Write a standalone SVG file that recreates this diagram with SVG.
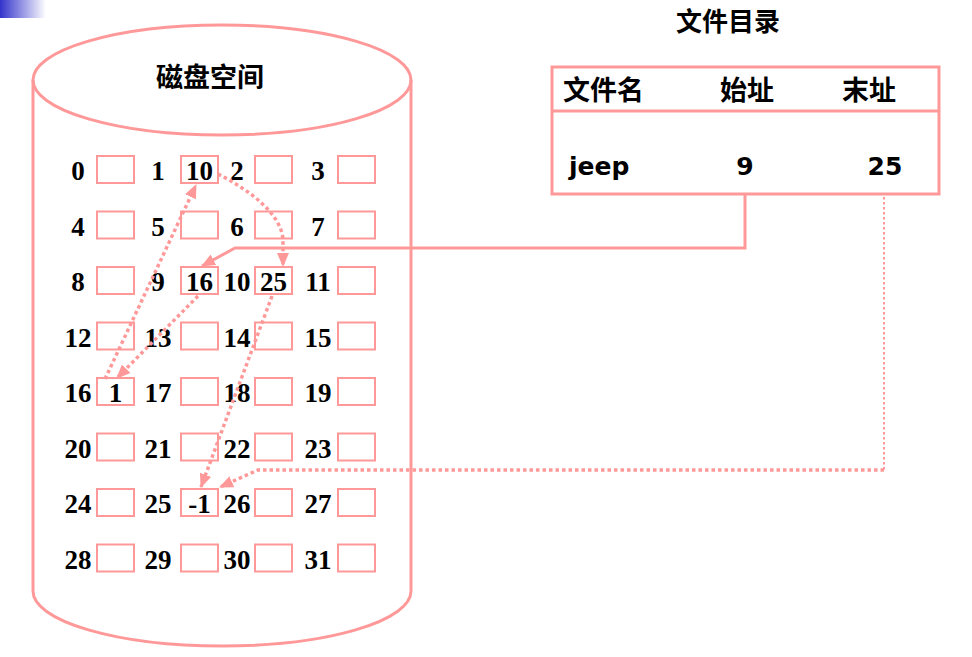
<svg xmlns="http://www.w3.org/2000/svg" width="972" height="657" viewBox="0 0 972 657">
<defs>
<linearGradient id="g" x1="0" y1="0" x2="1" y2="0">
<stop offset="0" stop-color="#3333CC"/>
<stop offset="1" stop-color="#FFFFFF"/>
</linearGradient>
<marker id="ah" markerUnits="userSpaceOnUse" markerWidth="14" markerHeight="12" viewBox="0 0 14 12" refX="13" refY="6" orient="auto">
<path d="M0,0 L14,6 L0,12 Z" fill="#FF9999"/>
</marker>
</defs>
<style>
.ln{fill:none;stroke:#FF9999;stroke-width:3}
.bx{fill:none;stroke:#FF9999;stroke-width:2}
.dot{fill:none;stroke:#FF9999;stroke-width:3.5;stroke-dasharray:3.5 3}
.dot2{fill:none;stroke:#FF9999;stroke-width:2;stroke-dasharray:2.5 2.5}
.n{font-family:"Liberation Serif",serif;font-weight:bold;font-size:27px;text-anchor:middle;fill:#000}
.cj{font-family:"Noto Sans CJK SC",sans-serif;font-weight:bold;font-size:27px;fill:#000}
.v{font-family:"DejaVu Sans",sans-serif;font-weight:bold;font-size:25px;fill:#000}
</style>
<rect x="0" y="0" width="46" height="18" fill="url(#g)"/>
<g id="disk">
<path class="ln" d="M33,80 L33,591 A189,55 0 0 0 411,591 L411,80"/>
<ellipse class="ln" cx="222" cy="80" rx="189" ry="55"/>
<text class="cj" x="210" y="87" text-anchor="middle">磁盘空间</text>
</g>
<g id="blocks">
<g id="r0"><rect class="bx" x="97" y="156" width="37" height="27"/><rect class="bx" x="181" y="156" width="37" height="27"/><rect class="bx" x="255" y="156" width="37" height="27"/><rect class="bx" x="338" y="156" width="37" height="27"/>
<text class="n" x="78" y="180">0</text><text class="n" x="158" y="180">1</text><text class="n" x="237" y="180">2</text><text class="n" x="318" y="180">3</text><text class="n" x="199.5" y="180">10</text></g>
<g id="r1"><rect class="bx" x="97" y="211.5" width="37" height="27"/><rect class="bx" x="181" y="211.5" width="37" height="27"/><rect class="bx" x="255" y="211.5" width="37" height="27"/><rect class="bx" x="338" y="211.5" width="37" height="27"/>
<text class="n" x="78" y="235.5">4</text><text class="n" x="158" y="235.5">5</text><text class="n" x="237" y="235.5">6</text><text class="n" x="318" y="235.5">7</text></g>
<g id="r2"><rect class="bx" x="97" y="267" width="37" height="27"/><rect class="bx" x="181" y="267" width="37" height="27"/><rect class="bx" x="255" y="267" width="37" height="27"/><rect class="bx" x="338" y="267" width="37" height="27"/>
<text class="n" x="78" y="291">8</text><text class="n" x="158" y="291">9</text><text class="n" x="237" y="291">10</text><text class="n" x="318" y="291">11</text><text class="n" x="199.5" y="291">16</text><text class="n" x="273.5" y="291">25</text></g>
<g id="r3"><rect class="bx" x="97" y="322.5" width="37" height="27"/><rect class="bx" x="181" y="322.5" width="37" height="27"/><rect class="bx" x="255" y="322.5" width="37" height="27"/><rect class="bx" x="338" y="322.5" width="37" height="27"/>
<text class="n" x="78" y="346.5">12</text><text class="n" x="158" y="346.5">13</text><text class="n" x="237" y="346.5">14</text><text class="n" x="318" y="346.5">15</text></g>
<g id="r4"><rect class="bx" x="97" y="378" width="37" height="27"/><rect class="bx" x="181" y="378" width="37" height="27"/><rect class="bx" x="255" y="378" width="37" height="27"/><rect class="bx" x="338" y="378" width="37" height="27"/>
<text class="n" x="78" y="402">16</text><text class="n" x="158" y="402">17</text><text class="n" x="237" y="402">18</text><text class="n" x="318" y="402">19</text><text class="n" x="115.5" y="402">1</text></g>
<g id="r5"><rect class="bx" x="97" y="433.5" width="37" height="27"/><rect class="bx" x="181" y="433.5" width="37" height="27"/><rect class="bx" x="255" y="433.5" width="37" height="27"/><rect class="bx" x="338" y="433.5" width="37" height="27"/>
<text class="n" x="78" y="457.5">20</text><text class="n" x="158" y="457.5">21</text><text class="n" x="237" y="457.5">22</text><text class="n" x="318" y="457.5">23</text></g>
<g id="r6"><rect class="bx" x="97" y="489" width="37" height="27"/><rect class="bx" x="181" y="489" width="37" height="27"/><rect class="bx" x="255" y="489" width="37" height="27"/><rect class="bx" x="338" y="489" width="37" height="27"/>
<text class="n" x="78" y="513">24</text><text class="n" x="158" y="513">25</text><text class="n" x="237" y="513">26</text><text class="n" x="318" y="513">27</text><text class="n" x="199.5" y="513">-1</text></g>
<g id="r7"><rect class="bx" x="97" y="544.5" width="37" height="27"/><rect class="bx" x="181" y="544.5" width="37" height="27"/><rect class="bx" x="255" y="544.5" width="37" height="27"/><rect class="bx" x="338" y="544.5" width="37" height="27"/>
<text class="n" x="78" y="568.5">28</text><text class="n" x="158" y="568.5">29</text><text class="n" x="237" y="568.5">30</text><text class="n" x="318" y="568.5">31</text></g>
</g>
<g id="directory">
<text class="cj" x="728" y="31" text-anchor="middle" style="font-size:26px">文件目录</text>
<rect class="ln" x="552" y="67" width="387" height="127"/>
<line class="ln" x1="552" y1="111" x2="939" y2="111"/>
<text class="cj" x="563" y="100">文件名</text>
<text class="cj" x="747" y="100" text-anchor="middle">始址</text>
<text class="cj" x="869" y="100" text-anchor="middle">末址</text>
<text class="v" x="569" y="175">jeep</text>
<text class="v" x="745" y="175" text-anchor="middle">9</text>
<text class="v" x="885" y="175" text-anchor="middle">25</text>
</g>
<g id="connectors">
<path class="ln" d="M745,194 L745,248 L235,248 L202,266" marker-end="url(#ah)"/>
<path class="dot2" d="M884,197 L884,470"/>
<path class="dot" d="M884,470 L258,470 L220,487" marker-end="url(#ah)"/>
<path class="dot" d="M218,174 C250,190 282,215 283,240 L283,266" marker-end="url(#ah)"/>
<path class="dot" d="M272,296 L201,487" marker-end="url(#ah)"/>
<path class="dot" d="M198,296 L117,378" marker-end="url(#ah)"/>
<path class="dot" d="M105,379 L196,185" marker-end="url(#ah)"/>
</g>
</svg>
